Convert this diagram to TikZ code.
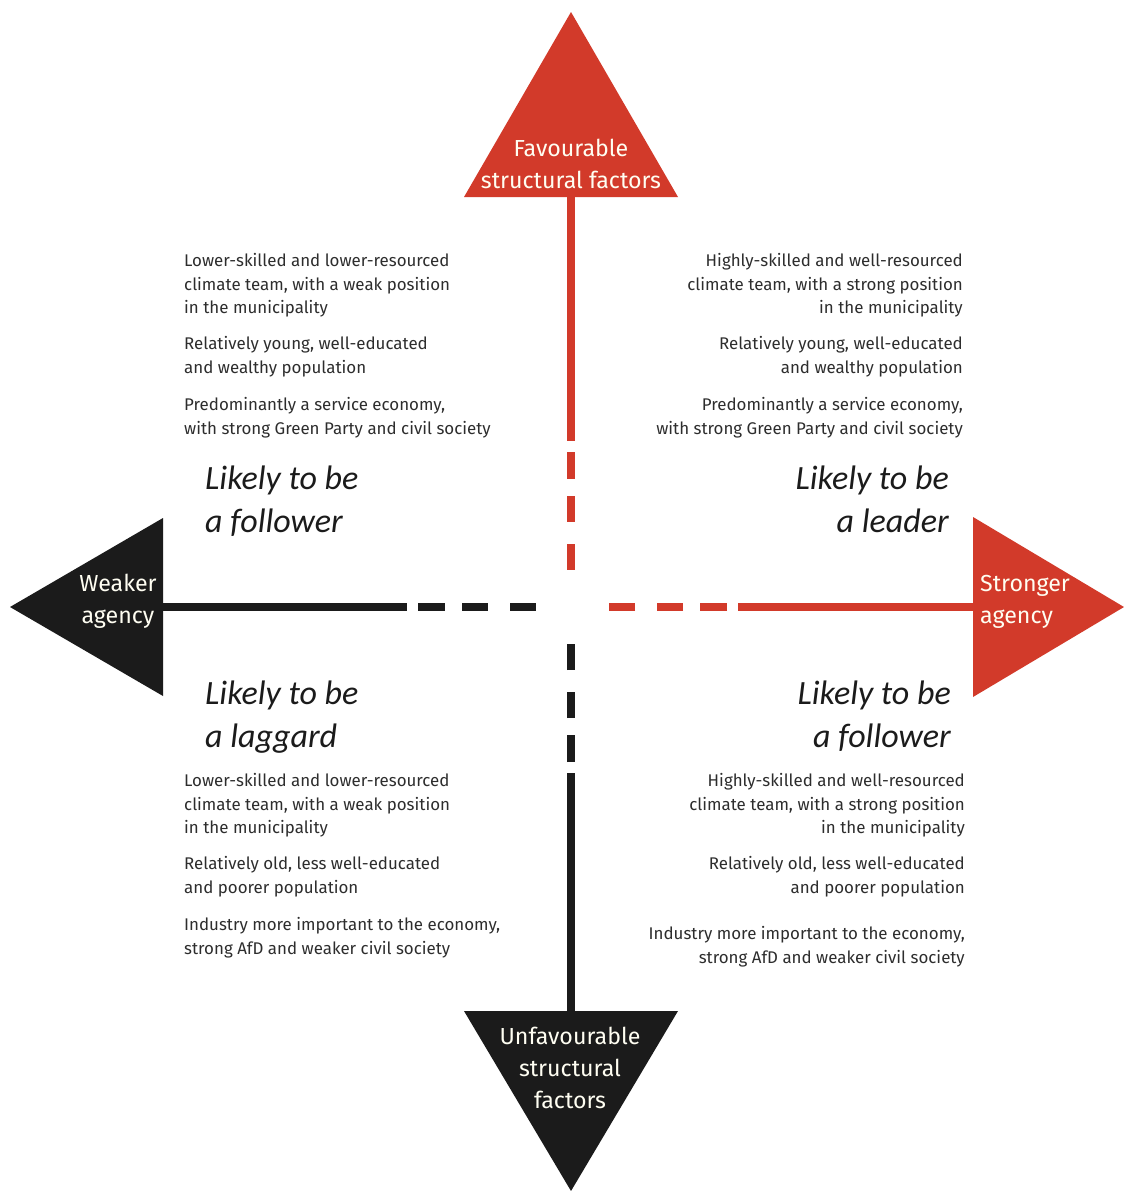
\documentclass[tikz,border=0pt]{standalone}
\usepackage{fontspec}
\setmainfont{Fira Sans}
\newfontfamily\headfont{Carlito}
\usepackage{xcolor}
\definecolor{favred}{RGB}{210,58,42}
\definecolor{unfavblack}{RGB}{27,27,27}
\definecolor{notegray}{RGB}{45,45,45}

\begin{document}
\begin{tikzpicture}[x=1pt, y=-1pt,
axis/.style={line width=8.5pt, dash pattern=on 244pt off 11pt on 27pt off 17pt on 26pt off 22pt on 26pt off 200pt},
note/.style={font=\fontsize{16.9}{23.7}\selectfont, text=notegray, inner sep=0pt},
verdict/.style={font=\headfont\itshape\fontsize{34}{43}\selectfont, text=unfavblack, inner sep=0pt},
trilabel/.style={font=\fontsize{23.2}{32}\selectfont, text=white!95!yellow, align=center, inner sep=0pt}
]

\useasboundingbox (0,0) rectangle (1124,1191);

% axis ends (inside the triangles) and centre gaps
\coordinate (favroot) at (571,197);
\coordinate (favend) at (571,570);
\coordinate (unfavroot) at (571,1017);
\coordinate (unfavend) at (571,644);
\coordinate (weakroot) at (163,607);
\coordinate (weakend) at (536,607);
\coordinate (strongroot) at (982,607);
\coordinate (strongend) at (609,607);

\draw[axis, favred] (favroot) -- (favend);
\draw[axis, unfavblack] (unfavroot) -- (unfavend);
\draw[axis, unfavblack] (weakroot) -- (weakend);
\draw[axis, favred] (strongroot) -- (strongend);

% triangles
\fill[favred] (571,12) -- (678,197) -- (464,197) -- cycle;
\fill[unfavblack] (571,1191) -- (678,1011) -- (464,1011) -- cycle;
\fill[unfavblack] (10,607) -- (163,518) -- (163,696) -- cycle;
\fill[favred] (1124,607) -- (973,517) -- (973,697) -- cycle;

\node[trilabel] (fav) at (571,164) {Favourable\\structural factors};
\node[trilabel] (unfav) at (570,1068) {Unfavourable\\structural\\factors};
\node[trilabel] (weak) at (118,601) {Weaker\\agency};
\node[trilabel, anchor=west, align=left] (strong) at (980,602) {Stronger\\agency};

% quadrant verdicts
\node[verdict, anchor=north west, align=left] (tlhead) at (205,466) {Likely to be\\a follower};
\node[verdict, anchor=north east, align=right] (trhead) at (949,466) {Likely to be\\a leader};
\node[verdict, anchor=north west, align=left] (blhead) at (205,681) {Likely to be\\a laggard};
\node[verdict, anchor=north east, align=right] (brhead) at (951,681) {Likely to be\\a follower};

% quadrant notes
\node[note, anchor=north west, align=left] (tlnote) at (184,253)
  {Lower-skilled and lower-resourced\\climate team, with a weak position\\in the municipality\\[12pt]
   Relatively young, well-educated\\and wealthy population\\[14pt]
   Predominantly a service economy,\\with strong Green Party and civil society};
\node[note, anchor=north east, align=right] (trnote) at (963,253)
  {Highly-skilled and well-resourced\\climate team, with a strong position\\in the municipality\\[12pt]
   Relatively young, well-educated\\and wealthy population\\[14pt]
   Predominantly a service economy,\\with strong Green Party and civil society};
\node[note, anchor=north west, align=left] (blnote) at (184,773)
  {Lower-skilled and lower-resourced\\climate team, with a weak position\\in the municipality\\[12pt]
   Relatively old, less well-educated\\and poorer population\\[14pt]
   Industry more important to the economy,\\strong AfD and weaker civil society};
\node[note, anchor=north east, align=right] (brnote) at (965,773)
  {Highly-skilled and well-resourced\\climate team, with a strong position\\in the municipality\\[12pt]
   Relatively old, less well-educated\\and poorer population\\[23pt]
   Industry more important to the economy,\\strong AfD and weaker civil society};

\end{tikzpicture}
\end{document}
